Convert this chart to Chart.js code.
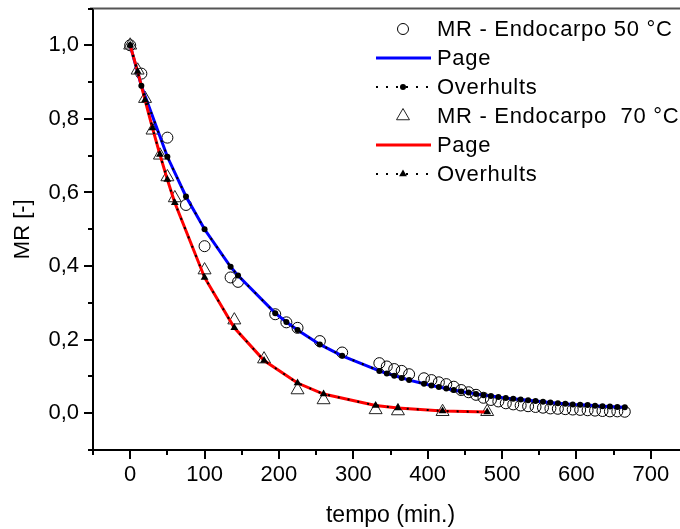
<!DOCTYPE html>
<html>
<head>
<meta charset="utf-8">
<script src="https://cdn.jsdelivr.net/npm/chart.js@4.4.1/dist/chart.umd.min.js"></script>
<style>
  html, body { margin: 0; padding: 0; background: #fff; overflow: hidden; }
  #wrap { width: 700px; height: 529px; }
</style>
</head>
<body>
<div id="wrap"><canvas id="chart" width="700" height="529"></canvas></div>
<script>
// Experimental data, 50 °C
const tempo50 = [0, 15, 50, 75, 100, 135, 145, 195, 210, 225, 255, 285,
  335, 345, 355, 365, 375,
  395, 405, 415, 425, 435, 445, 455, 465, 475, 485, 495, 505, 515, 525,
  535, 545, 555, 565, 575, 585, 595, 605, 615, 625, 635, 645, 655, 665];
const mr50 = [1.000, 0.923, 0.749, 0.566, 0.454, 0.369, 0.357, 0.269, 0.247, 0.232, 0.196, 0.165,
  0.136, 0.127, 0.120, 0.115, 0.106,
  0.095, 0.090, 0.084, 0.079, 0.072, 0.063, 0.057, 0.050, 0.042, 0.036, 0.032, 0.027, 0.024, 0.021,
  0.019, 0.017, 0.015, 0.013, 0.012, 0.011, 0.010, 0.009, 0.008, 0.007, 0.006, 0.005, 0.005, 0.004];
// Page model at the same times (50 °C)
const page50 = [1.000, 0.890, 0.697, 0.589, 0.500, 0.398, 0.374, 0.272, 0.248, 0.226, 0.187, 0.156,
  0.115, 0.108, 0.102, 0.096, 0.090,
  0.080, 0.075, 0.071, 0.067, 0.063, 0.059, 0.056, 0.052, 0.049, 0.047, 0.044, 0.041, 0.039, 0.037,
  0.035, 0.033, 0.031, 0.029, 0.027, 0.026, 0.024, 0.023, 0.022, 0.020, 0.019, 0.018, 0.017, 0.016];
// Overhults fit lies on the Page curve
const overhults50 = page50;

// Experimental data, 70 °C
const tempo70 = [0, 10, 20, 30, 40, 50, 60, 100, 140, 180, 225, 260, 330, 360, 420, 480];
const mr70 = [1.000, 0.932, 0.855, 0.769, 0.701, 0.642, 0.585, 0.389, 0.253, 0.147, 0.063, 0.036, 0.009, 0.006, 0.004, 0.004];
const page70 = [1.000, 0.929, 0.851, 0.775, 0.703, 0.635, 0.572, 0.369, 0.232, 0.143, 0.082, 0.052, 0.021, 0.014, 0.006, 0.003];
const overhults70 = page70;

const seriesLabels = ['MR - Endocarpo 50 °C', 'Page', 'Overhults', 'MR - Endocarpo  70 °C', 'Page', 'Overhults'];

// axis ticks
const xMajorTicks = [0, 100, 200, 300, 400, 500, 600, 700];
const xMinorTicks = [-50, 50, 150, 250, 350, 450, 550, 650, 750];
const yMajorTicks = [0, 0.2, 0.4, 0.6, 0.8, 1.0];
const yTickLabels = ['0,0', '0,2', '0,4', '0,6', '0,8', '1,0'];
const yMinorTicks = [-0.1, 0.1, 0.3, 0.5, 0.7, 0.9, 1.1];

const FONT = '"Liberation Sans", Arial, sans-serif';
const FSIZE = 22;

function pts(xs, ys) {
  return xs.map(function (x, i) { return { x: x, y: ys[i] }; });
}

// legend drawn inside the plot, top right
const insideLegend = {
  id: 'insideLegend',
  afterDraw: function (chart) {
    const ctx = chart.ctx;
    ctx.save();
    chart.data.datasets.forEach(function (ds, i) {
      const y = 29 + i * 29;
      if (ds.showLine) {
        ctx.beginPath();
        ctx.setLineDash(ds.borderDash || []);
        ctx.lineWidth = ds.borderWidth;
        ctx.strokeStyle = ds.borderColor;
        ctx.moveTo(376, y);
        ctx.lineTo(431, y);
        ctx.stroke();
        ctx.setLineDash([]);
      }
      if (ds.pointRadius > 0) {
        ctx.fillStyle = ds.pointBackgroundColor;
        ctx.strokeStyle = ds.pointBorderColor;
        ctx.lineWidth = ds.pointBorderWidth;
        Chart.helpers.drawPoint(ctx, {
          pointStyle: ds.pointStyle, radius: ds.pointRadius,
          rotation: 0, borderWidth: ds.pointBorderWidth
        }, 403, y);
      }
      ctx.fillStyle = '#000';
      ctx.font = FSIZE + 'px ' + FONT;
      ctx.letterSpacing = '0.7px';
      ctx.textBaseline = 'middle';
      ctx.textAlign = 'left';
      ctx.fillText(ds.label, 437, y + 1);
    });
    ctx.restore();
  }
};

// outward tick marks + top frame
const axisMarks = {
  id: 'axisMarks',
  afterDraw: function (chart) {
    const ctx = chart.ctx, a = chart.chartArea, sx = chart.scales.x, sy = chart.scales.y;
    ctx.save();
    ctx.strokeStyle = '#555';
    ctx.lineWidth = 2;
    ctx.beginPath();
    ctx.moveTo(a.left - 3, a.top);
    ctx.lineTo(a.right, a.top);
    ctx.lineTo(a.right, a.bottom);
    ctx.stroke();
    ctx.strokeStyle = '#000';
    ctx.beginPath();
    xMajorTicks.forEach(function (v) {
      const px = Math.round(sx.getPixelForValue(v));
      ctx.moveTo(px, a.bottom); ctx.lineTo(px, a.bottom + 9);
    });
    xMinorTicks.forEach(function (v) {
      const px = Math.round(sx.getPixelForValue(v));
      ctx.moveTo(px, a.bottom); ctx.lineTo(px, a.bottom + 5);
    });
    yMajorTicks.forEach(function (v) {
      const py = Math.round(sy.getPixelForValue(v));
      ctx.moveTo(a.left, py); ctx.lineTo(a.left - 9, py);
    });
    yMinorTicks.forEach(function (v) {
      const py = Math.round(sy.getPixelForValue(v));
      ctx.moveTo(a.left, py); ctx.lineTo(a.left - 5, py);
    });
    ctx.stroke();
    ctx.restore();
  }
};

Chart.defaults.font.family = FONT;
Chart.defaults.font.size = FSIZE;
Chart.defaults.color = '#000';

new Chart(document.getElementById('chart'), {
  type: 'scatter',
  data: {
    datasets: [
      {
        label: seriesLabels[0], data: pts(tempo50, mr50), showLine: false,
        pointStyle: 'circle', pointRadius: 5.5, pointBorderWidth: 1,
        pointBorderColor: '#000', pointBackgroundColor: 'rgba(0,0,0,0)', order: 5
      },
      {
        label: seriesLabels[1], data: pts(tempo50, page50), showLine: true,
        borderColor: '#0000ff', borderWidth: 3, pointRadius: 0, tension: 0, order: 3
      },
      {
        label: seriesLabels[2], data: pts(tempo50, overhults50), showLine: true,
        borderColor: '#000', borderWidth: 2, borderDash: [2, 8], tension: 0,
        pointStyle: 'circle', pointRadius: 3, pointBorderWidth: 0,
        pointBorderColor: '#000', pointBackgroundColor: '#000', order: 1
      },
      {
        label: seriesLabels[3], data: pts(tempo70, mr70), showLine: false,
        pointStyle: 'triangle', pointRadius: 7.5, pointBorderWidth: 1,
        pointBorderColor: '#222', pointBackgroundColor: 'rgba(0,0,0,0)', order: 4
      },
      {
        label: seriesLabels[4], data: pts(tempo70, page70), showLine: true,
        borderColor: '#ff0000', borderWidth: 3, pointRadius: 0, tension: 0, order: 2
      },
      {
        label: seriesLabels[5], data: pts(tempo70, overhults70), showLine: true,
        borderColor: '#000', borderWidth: 2, borderDash: [2, 8], tension: 0,
        pointStyle: 'triangle', pointRadius: 4.5, pointBorderWidth: 0,
        pointBorderColor: '#000', pointBackgroundColor: '#000', order: 0
      }
    ]
  },
  options: {
    responsive: false,
    animation: false,
    devicePixelRatio: 1,
    layout: { padding: { top: 8, right: 12, left: 0, bottom: 0 } },
    plugins: { legend: { display: false }, tooltip: { enabled: false } },
    scales: {
      x: {
        type: 'linear', min: -50, max: 750,
        afterBuildTicks: function (s) { s.ticks = xMajorTicks.map(function (v) { return { value: v }; }); },
        afterFit: function (s) { s.height = 79; s.paddingLeft = 0; s.paddingRight = 0; },
        grid: { display: false, drawTicks: false },
        border: { display: true, color: '#000', width: 2 },
        ticks: { padding: 12, maxRotation: 0, autoSkip: false, callback: function (v) { return String(v); } },
        title: { display: true, text: 'tempo (min.)', font: { size: 23 }, padding: { top: 0, bottom: 0 } }
      },
      y: {
        type: 'linear', min: -0.1, max: 1.1,
        afterBuildTicks: function (s) { s.ticks = yMajorTicks.map(function (v) { return { value: v }; }); },
        afterFit: function (s) { s.width = 93; s.paddingTop = 0; s.paddingBottom = 0; },
        grid: { display: false, drawTicks: false },
        border: { display: true, color: '#000', width: 2 },
        ticks: { padding: 14, autoSkip: false, callback: function (v) { return yTickLabels[yMajorTicks.indexOf(v)]; } },
        title: { display: true, text: 'MR [-]', padding: { top: 10, bottom: 0 } }
      }
    }
  },
  plugins: [axisMarks, insideLegend]
});
</script>
</body>
</html>
